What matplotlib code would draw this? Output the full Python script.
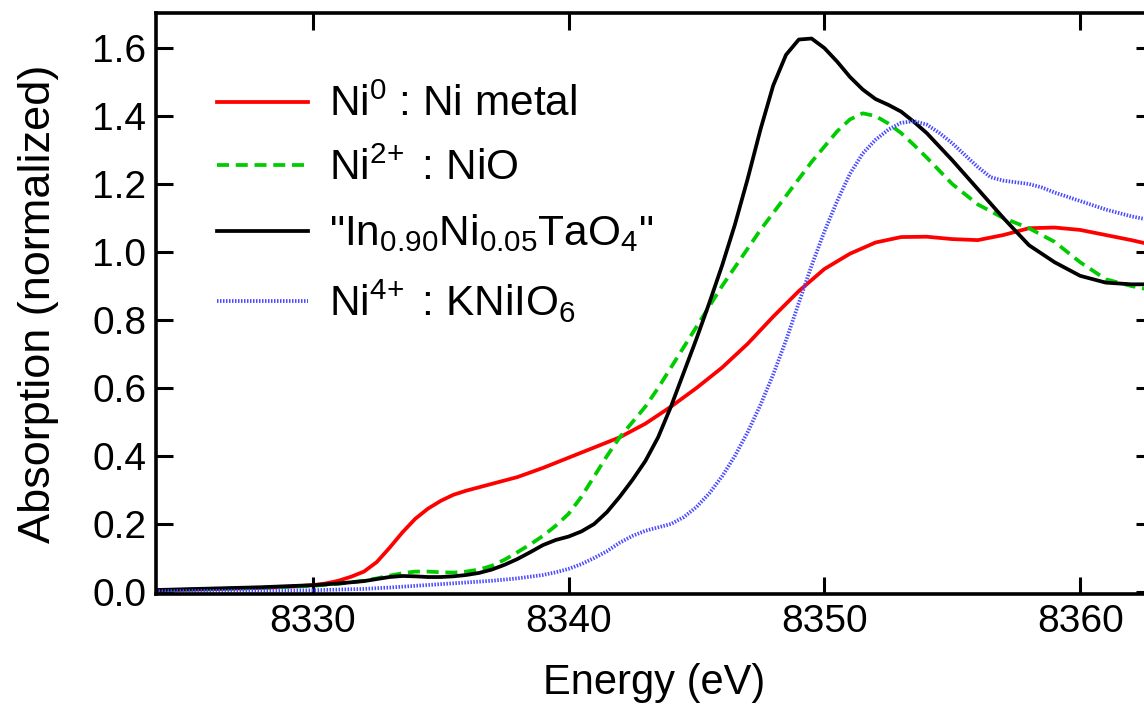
import matplotlib
matplotlib.use("Agg")
import matplotlib.pyplot as plt
import numpy as np

plt.rcParams['font.family'] = ['Liberation Sans', 'DejaVu Sans']
plt.rcParams['mathtext.fontset'] = 'custom'
plt.rcParams['mathtext.rm'] = 'Liberation Sans'
plt.rcParams['mathtext.it'] = 'Liberation Sans'
plt.rcParams['mathtext.bf'] = 'Liberation Sans:bold'

# --- dati ---
e_metal = [8323.5, 8326, 8328, 8329, 8330, 8330.5, 8331, 8331.5, 8332, 8332.5, 8333, 8333.5,
           8334, 8334.5, 8335, 8335.5, 8336, 8337, 8338, 8339, 8340, 8341, 8342, 8343,
           8344, 8345, 8346, 8347, 8348, 8349, 8350, 8351, 8352, 8353, 8354, 8355, 8356,
           8357, 8358, 8359, 8360, 8361, 8362, 8363]
a_metal = [0.004, 0.008, 0.012, 0.015, 0.02, 0.025, 0.033, 0.045, 0.06, 0.088, 0.13, 0.175,
           0.215, 0.245, 0.268, 0.286, 0.298, 0.318, 0.338, 0.365, 0.395, 0.425, 0.455, 0.495,
           0.545, 0.6, 0.66, 0.73, 0.81, 0.885, 0.95, 0.995, 1.028, 1.044, 1.045, 1.038, 1.035,
           1.05, 1.07, 1.072, 1.065, 1.05, 1.035, 1.018]

e_nio = [8323.5, 8326, 8328, 8330, 8331, 8332, 8332.5, 8333, 8333.5, 8334, 8334.5, 8335,
         8335.5, 8336, 8336.5, 8337, 8337.5, 8338, 8338.5, 8339, 8339.5, 8340, 8340.5,
         8341, 8341.5, 8342, 8342.5, 8343, 8343.5, 8344, 8344.5, 8345, 8345.5, 8346,
         8346.5, 8347, 8347.5, 8348, 8348.5, 8349, 8349.5, 8350, 8350.5, 8351, 8351.5,
         8352, 8352.5, 8353, 8353.5, 8354, 8355, 8356, 8357, 8358, 8359, 8360, 8361, 8362, 8363]
a_nio = [0.004, 0.008, 0.012, 0.018, 0.024, 0.033, 0.04, 0.048, 0.055, 0.06, 0.06, 0.058,
         0.057, 0.06, 0.066, 0.077, 0.095, 0.117, 0.14, 0.165, 0.195, 0.23, 0.28,
         0.34, 0.4, 0.455, 0.5, 0.545, 0.6, 0.66, 0.72, 0.78, 0.84, 0.9,
         0.955, 1.01, 1.065, 1.115, 1.165, 1.215, 1.265, 1.31, 1.355, 1.39, 1.408,
         1.4, 1.378, 1.35, 1.315, 1.278, 1.2, 1.14, 1.1, 1.07, 1.03, 0.97, 0.92, 0.9, 0.885]

e_sample = [8323.5, 8326, 8328, 8330, 8331, 8332, 8332.5, 8333, 8333.5, 8334, 8334.5, 8335,
            8335.5, 8336, 8336.5, 8337, 8337.5, 8338, 8338.5, 8339, 8339.5, 8340, 8340.5,
            8341, 8341.5, 8342, 8342.5, 8343, 8343.5, 8344, 8344.5, 8345, 8345.5, 8346,
            8346.5, 8347, 8347.5, 8348, 8348.5, 8349, 8349.5, 8350, 8350.5, 8351, 8351.5,
            8352, 8352.5, 8353, 8353.5, 8354, 8355, 8356, 8357, 8358, 8359, 8360, 8361, 8362, 8363]
a_sample = [0.005, 0.01, 0.014, 0.02, 0.025, 0.032, 0.038, 0.044, 0.047, 0.046, 0.044, 0.044,
            0.046, 0.05, 0.056, 0.066, 0.08, 0.097, 0.117, 0.138, 0.153, 0.163, 0.178,
            0.2, 0.235, 0.28, 0.33, 0.385, 0.455, 0.545, 0.645, 0.745, 0.85, 0.96,
            1.08, 1.215, 1.36, 1.49, 1.58, 1.625, 1.628, 1.6, 1.56, 1.515, 1.478,
            1.45, 1.433, 1.413, 1.383, 1.35, 1.27, 1.185, 1.1, 1.02, 0.97, 0.93, 0.91, 0.905, 0.905]

e_kniio = [8323.5, 8326, 8328, 8330, 8332, 8333, 8334, 8335, 8336, 8337, 8338, 8339, 8339.5,
           8340, 8340.5, 8341, 8341.5, 8342, 8342.5, 8343, 8343.5, 8344, 8344.5, 8345,
           8345.5, 8346, 8346.5, 8347, 8347.5, 8348, 8348.5, 8349, 8349.5, 8350, 8350.5,
           8351, 8351.5, 8352, 8352.5, 8353, 8353.5, 8354, 8354.5, 8355, 8355.5, 8356,
           8356.5, 8357, 8357.5, 8358, 8358.5, 8359, 8360, 8361, 8362, 8363]
a_kniio = [0.002, 0.003, 0.004, 0.005, 0.009, 0.013, 0.018, 0.023, 0.028, 0.033, 0.04, 0.05, 0.058,
           0.068, 0.082, 0.1, 0.12, 0.145, 0.165, 0.18, 0.19, 0.2, 0.22, 0.25,
           0.29, 0.34, 0.4, 0.47, 0.55, 0.64, 0.74, 0.85, 0.96, 1.06, 1.15,
           1.23, 1.29, 1.33, 1.36, 1.38, 1.385, 1.375, 1.35, 1.32, 1.285, 1.25,
           1.22, 1.21, 1.205, 1.2, 1.19, 1.175, 1.15, 1.125, 1.105, 1.09]

etichette = [r'Ni$^{0}$ : Ni metal',
             r'Ni$^{2\!+}$ : NiO',
             r'"In$_{0.90}$Ni$_{0.05}$TaO$_{4}$"',
             r'Ni$^{4\!+}$ : KNiIO$_{6}$']

x_ticks = [8330, 8340, 8350, 8360]
y_ticks = [0.0, 0.2, 0.4, 0.6, 0.8, 1.0, 1.2, 1.4, 1.6]

# --- figura ---
fig = plt.figure(figsize=(11.44, 7.08), dpi=100)
ax = fig.add_axes([0.1364, 0.161, 0.8715, 0.8206])

lw = 2.7
ax.plot(e_metal, a_metal, color='#ff0000', lw=lw, label=etichette[0])
ax.plot(e_nio, a_nio, color='#00cc00', lw=lw, linestyle=(0, (3.2, 1.8)), label=etichette[1])
ax.plot(e_sample, a_sample, color='black', lw=lw, label=etichette[2])
ax.plot(e_kniio, a_kniio, color='#4a4aff', lw=lw, linestyle=(0, (0.4, 0.4)), label=etichette[3])

ax.set_xlim(8323.87, 8362.85)
ax.set_ylim(-0.006, 1.703)
ax.set_xticks(x_ticks)
ax.set_yticks(y_ticks)
ax.set_yticklabels([f'{v:.1f}' for v in y_ticks])
ax.tick_params(direction='in', top=True, right=True, length=12, width=2.2,
               labelsize=28, pad=7)
for s in ax.spines.values():
    s.set_linewidth(2.6)

ax.set_xlabel('Energy (eV)', fontsize=30, labelpad=17)
ax.set_ylabel('Absorption (normalized)', fontsize=32.5, labelpad=24)

ax.legend(loc='upper left', bbox_to_anchor=(0.061, 0.876), frameon=False,
          fontsize=30.5, handlelength=2.15, handletextpad=0.5, labelspacing=0.55,
          borderaxespad=0, borderpad=0)

fig.savefig('out.png', dpi=100)
